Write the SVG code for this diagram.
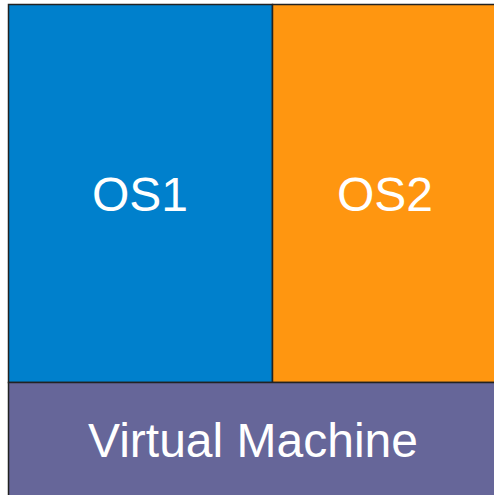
<svg xmlns="http://www.w3.org/2000/svg" width="494" height="495" viewBox="0 0 494 495">
  <style>
    .box { stroke: #222; stroke-width: 1.5; }
    .label { font-family: "Liberation Sans", Arial, sans-serif; font-size: 48px; fill: #fff; text-anchor: middle; }
  </style>
  <rect width="494" height="495" fill="#fff"/>
  <g id="os1">
    <rect class="box" x="8.5" y="4.5" width="264" height="378" fill="#0080CC"/>
    <text class="label" x="140" y="211">OS1</text>
  </g>
  <g id="os2">
    <rect class="box" x="272.5" y="4.5" width="230" height="378" fill="#FF9610"/>
    <text class="label" x="385" y="211">OS2</text>
  </g>
  <g id="vm">
    <rect class="box" x="8.5" y="382.5" width="494" height="120" fill="#666699"/>
    <text class="label" x="253" y="457">Virtual Machine</text>
  </g>
  <g id="connectors"/>
</svg>
